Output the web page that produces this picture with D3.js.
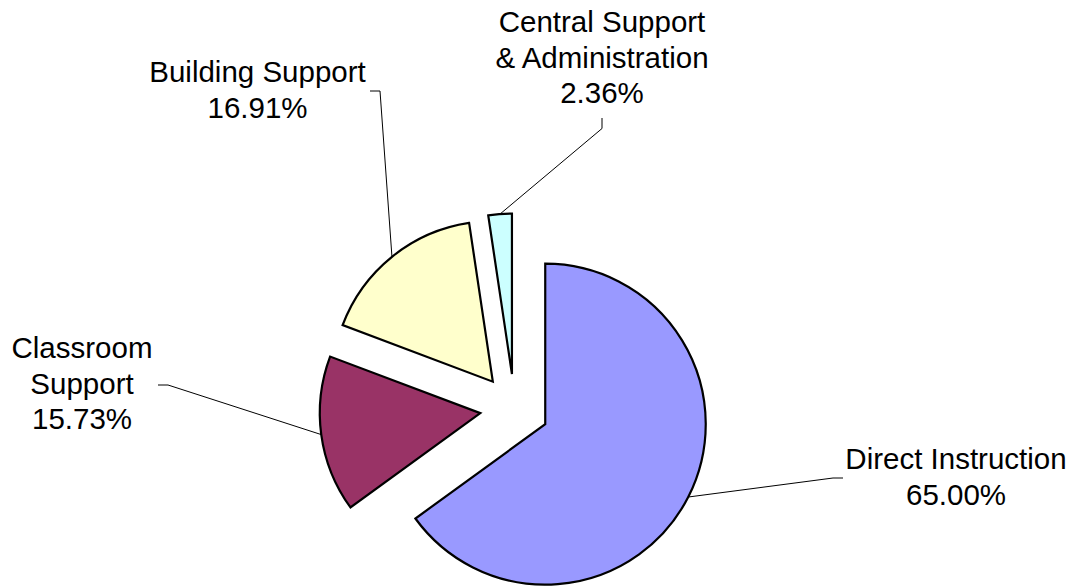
<!DOCTYPE html>
<html>
<head>
<meta charset="utf-8">
<script src="https://cdn.jsdelivr.net/npm/d3@7"></script>
<style>
  html, body { margin: 0; padding: 0; background: #ffffff; }
  svg { display: block; }
  text { font-family: "Liberation Sans", Arial, Helvetica, sans-serif; font-size: 29.5px; fill: #000; }
</style>
</head>
<body>
<svg id="chart" width="1080" height="586"></svg>
<script>
// Data
const categories = ["Direct Instruction", "Classroom Support", "Building Support", "Central Support & Administration"];
const values = [65.00, 15.73, 16.91, 2.36];
const colors = ["#9999FF", "#993366", "#FFFFCC", "#CCFFFF"];
const labelLines = [
  ["Direct Instruction", "65.00%"],
  ["Classroom", "Support", "15.73%"],
  ["Building Support", "16.91%"],
  ["Central Support", "& Administration", "2.36%"]
];

// Layout
const W = 1080, H = 586;
const cx = 514.5, cy = 408.5, R = 160.5, explode = 34.5;
const lineH = 35.7;
// label anchor (center x, first baseline y) and leader elbow points
const labelPos = [
  { x: 956, y: 469, elbow: [[843, 478], [833, 478]] },
  { x: 82, y: 358, elbow: [[158, 385], [168, 385]] },
  { x: 257.5, y: 82, elbow: [[370, 91], [380, 91]] },
  { x: 602, y: 32, elbow: [[602, 118], [602, 128.5]] }
];

const svg = d3.select("#chart");
const pie = d3.pie().sort(null).value(d => d)(values);
const arc = d3.arc().innerRadius(0).outerRadius(R);

const g = svg.append("g").attr("transform", `translate(${cx},${cy})`);

pie.forEach((p, i) => {
  const mid = (p.startAngle + p.endAngle) / 2;
  const dx = explode * Math.sin(mid), dy = -explode * Math.cos(mid);
  g.append("path")
    .attr("d", arc(p))
    .attr("transform", `translate(${dx},${dy})`)
    .attr("fill", colors[i])
    .attr("stroke", "#000")
    .attr("stroke-width", 2.2)
    .attr("stroke-linejoin", "miter");

  // leader line from midpoint of outer arc to label elbow
  const ex = cx + dx + R * Math.sin(mid);
  const ey = cy + dy - R * Math.cos(mid);
  const lp = labelPos[i];
  const pts = [lp.elbow[0], lp.elbow[1], [ex, ey]];
  svg.append("path")
    .attr("d", d3.line()(pts))
    .attr("fill", "none")
    .attr("stroke", "#000")
    .attr("stroke-width", 1);

  const t = svg.append("text").attr("text-anchor", "middle");
  labelLines[i].forEach((s, k) => {
    t.append("tspan").attr("x", lp.x).attr("y", lp.y + k * lineH).text(s);
  });
});
</script>
</body>
</html>
